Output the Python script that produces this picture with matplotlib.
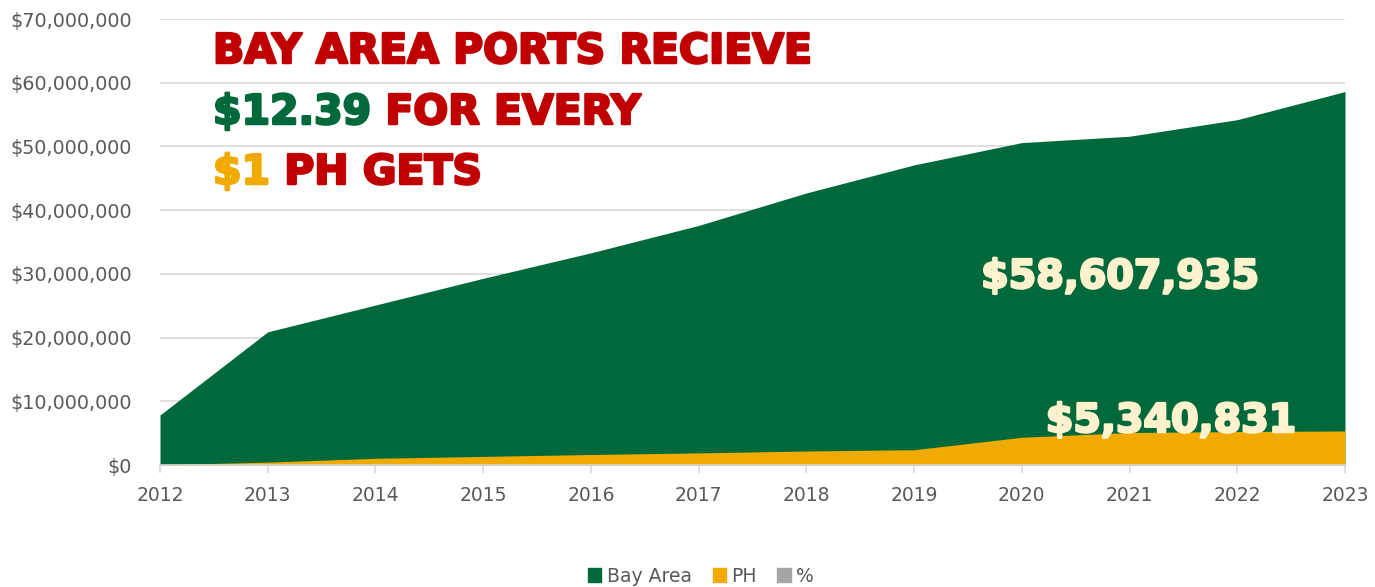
import matplotlib
matplotlib.use("Agg")
import matplotlib.pyplot as plt
from matplotlib.ticker import FuncFormatter
from matplotlib.patches import Patch
import matplotlib.patheffects as pe

years = [2012, 2013, 2014, 2015, 2016, 2017, 2018, 2019, 2020, 2021, 2022, 2023]
bay_area = [7.85e6, 20.9e6, 25.1e6, 29.3e6, 33.3e6, 37.6e6, 42.7e6, 47.1e6, 50.6e6, 51.6e6, 54.2e6, 58607935]
ph = [0.05e6, 0.45e6, 1.05e6, 1.35e6, 1.65e6, 1.9e6, 2.2e6, 2.4e6, 4.35e6, 5.1e6, 5.25e6, 5340831]
series_names = ["Bay Area", "PH", "%"]
bay_label = "$58,607,935"
ph_label = "$5,340,831"

GREEN = "#00693C"
YELLOW = "#F0AA00"
GRAY = "#A5A5A5"
RED = "#C00000"
CREAM = "#FFF2CC"
TICK = "#595959"

plt.rcParams['font.family'] = ['DejaVu Sans']

fig = plt.figure(figsize=(13.75, 5.87), dpi=100)
ax = fig.add_axes([160/1375, 1 - 465/587, (1345-160)/1375, (465-19)/587])

ax.fill_between(years, bay_area, 0, color=GREEN, linewidth=0, zorder=2)
ax.fill_between(years, ph, 0, color=YELLOW, linewidth=0, zorder=3)

ax.set_xlim(years[0], years[-1])
ax.set_ylim(0, 70e6)
ax.set_yticks([i * 10e6 for i in range(8)])
ax.yaxis.set_major_formatter(FuncFormatter(lambda v, p: "${:,.0f}".format(v)))
ax.set_xticks(years)
ax.set_xticklabels([str(y) for y in years])
ax.grid(axis='y', color="#D9D9D9", linewidth=1.2, zorder=0)
ax.set_axisbelow(True)
for s in ['top', 'right', 'left']:
    ax.spines[s].set_visible(False)
ax.spines['bottom'].set_color("#D9D9D9")
ax.spines['bottom'].set_linewidth(1.2)
ax.spines['bottom'].set_zorder(5)
ax.tick_params(axis='y', length=0, pad=20, labelsize=13.8, labelcolor=TICK)
ax.tick_params(axis='x', length=6, color="#D9D9D9", width=1.2, pad=9, labelsize=13.5, labelcolor=TICK)

def heavy(c):
    return [pe.withStroke(linewidth=1.8, foreground=c)]

# Headline text
hs = 29.5
hkw = dict(fontsize=hs, fontweight='bold', zorder=6)
t1 = ax.text(213/1375, 1 - 52/587, "BAY AREA PORTS RECIEVE", transform=fig.transFigure,
             color=RED, va='center', ha='left', path_effects=heavy(RED), **hkw)
t2 = ax.text(213/1375, 1 - 113/587, "$12.39", transform=fig.transFigure,
             color=GREEN, va='center', ha='left', path_effects=heavy(GREEN), **hkw)
ax.annotate(" FOR EVERY", xy=(1, 0), xycoords=t2, va='bottom', ha='left',
            color=RED, path_effects=heavy(RED), **hkw)
t3 = ax.text(213/1375, 1 - 173/587, "$1", transform=fig.transFigure,
             color=YELLOW, va='center', ha='left', path_effects=heavy(YELLOW), **hkw)
ax.annotate(" PH GETS", xy=(1, 0), xycoords=t3, va='bottom', ha='left',
            color=RED, path_effects=heavy(RED), **hkw)

# Value labels
vkw = dict(fontsize=28.5, fontweight='bold', zorder=6)
ax.text(1120/1375, 1 - 277/587, bay_label, transform=fig.transFigure,
        color=CREAM, va='center', ha='center', path_effects=heavy(CREAM), **vkw)
ax.text(1171/1375, 1 - 421/587, ph_label, transform=fig.transFigure,
        color=CREAM, va='center', ha='center', path_effects=heavy(CREAM), **vkw)

handles = [Patch(color=GREEN), Patch(color=YELLOW), Patch(color=GRAY)]
fig.legend(handles, series_names, loc='center', bbox_to_anchor=(701/1375, 1 - 576/587),
           ncol=3, frameon=False, fontsize=13.5, labelcolor=TICK,
           handlelength=0.7, handleheight=0.7, handletextpad=0.3, columnspacing=1.1)

fig.savefig("out.png", dpi=100)
